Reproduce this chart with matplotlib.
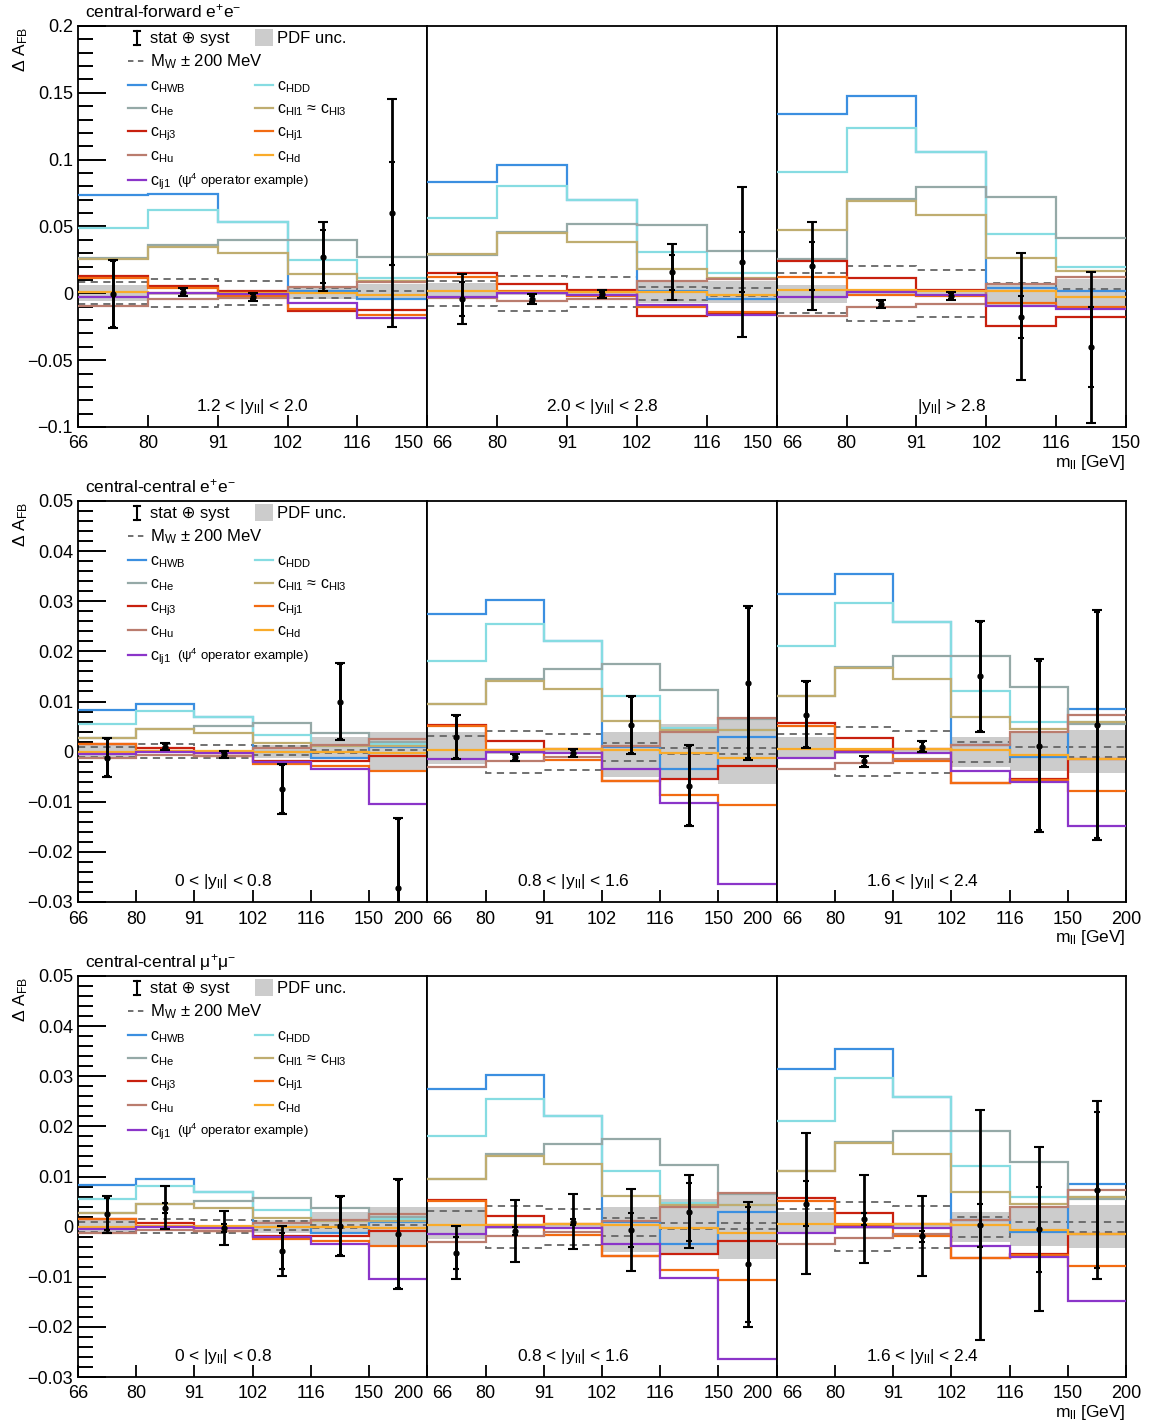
import numpy as np
import matplotlib
matplotlib.use("Agg")
import matplotlib.pyplot as plt
from matplotlib.ticker import FixedLocator, FuncFormatter
from matplotlib.patches import Rectangle
import matplotlib.transforms as mtransforms

plt.rcParams['font.family'] = ['Liberation Sans', 'DejaVu Sans']
plt.rcParams['mathtext.fontset'] = 'custom'
plt.rcParams['mathtext.rm'] = 'Liberation Sans'
plt.rcParams['mathtext.it'] = 'Liberation Sans:italic'
plt.rcParams['mathtext.bf'] = 'Liberation Sans:bold'

# ---------------- data ----------------
mass_labels_cf = ['66', '80', '91', '102', '116', '150']
mass_labels_cc = ['66', '80', '91', '102', '116', '150', '200']
ybins_cf = ['1.2 < |y$_{\\rm ll}$| < 2.0', '2.0 < |y$_{\\rm ll}$| < 2.8', '|y$_{\\rm ll}$| > 2.8']
ybins_cc = ['0 < |y$_{\\rm ll}$| < 0.8', '0.8 < |y$_{\\rm ll}$| < 1.6', '1.6 < |y$_{\\rm ll}$| < 2.4']
row_titles = ['central-forward e$^{+}$e$^{-}$', 'central-central e$^{+}$e$^{-}$', 'central-central \u03bc$^{+}$\u03bc$^{-}$']

# central-forward ee predictions (one list per rapidity bin)
cf_cHWB = [[0.0735, 0.0743, 0.0536, 0.002, -0.0045], [0.083, 0.096, 0.0698, 0.002, -0.004], [0.134, 0.148, 0.106, 0.0037, 0.002]]
cf_cHDD = [[0.0486, 0.0623, 0.0536, 0.0249, 0.0112], [0.056, 0.0805, 0.0698, 0.0311, 0.015], [0.0905, 0.124, 0.106, 0.0444, 0.020]]
cf_cHe = [[0.0265, 0.036, 0.0399, 0.0399, 0.0269], [0.029, 0.0456, 0.0518, 0.0513, 0.0316], [0.0257, 0.0703, 0.0793, 0.0723, 0.0411]]
cf_cHl = [[0.0257, 0.0349, 0.0299, 0.0144, 0.009], [0.0294, 0.0449, 0.0386, 0.0182, 0.0112], [0.0474, 0.0688, 0.0586, 0.0262, 0.0167]]
cf_cHj3 = [[0.013, 0.0055, 0.0017, -0.013, -0.0125], [0.015, 0.007, 0.0025, -0.017, -0.015], [0.0242, 0.0112, 0.0025, -0.0245, -0.0175]]
cf_cHj1 = [[0.0117, 0.004, -0.002, -0.012, -0.016], [0.012, 0.002, -0.002, -0.010, -0.0137], [0.0124, -0.0013, -0.002, -0.007, -0.010]]
cf_cHu = [[-0.0093, -0.0045, -0.0037, 0.0045, 0.0087], [-0.0037, -0.006, -0.004, 0.0094, 0.011], [-0.017, -0.010, -0.008, 0.007, 0.012]]
cf_cHd = [[0.0007, 0.0005, 0.0003, 0.0005, -0.0013], [0.0017, 0.0012, 0.0012, 0.001, -0.0013], [0.0025, 0.0025, 0.002, 0.0015, -0.0025]]
cf_clj1 = [[-0.0025, 0.0, -0.0007, -0.0075, -0.0187], [-0.003, 0.0, -0.001, -0.0088, -0.0162], [-0.0025, 0.0008, -0.001, -0.0095, -0.012]]
cf_mw_up = [[0.0082, 0.0105, 0.009, 0.0037, 0.002], [0.0094, 0.013, 0.012, 0.005, 0.004], [0.015, 0.0204, 0.0174, 0.0075, 0.0032]]
cf_mw_dn = [[-0.008, -0.010, -0.0088, -0.0033, -0.001], [-0.0095, -0.0132, -0.010, -0.005, -0.002], [-0.015, -0.0207, -0.0175, -0.0075, -0.003]]
cf_pdf_up = [[0.006, 0.0012, 0.0012, 0.005, 0.007], [0.0075, 0.0015, 0.0015, 0.009, 0.009], [0.0062, 0.0015, 0.0015, 0.007, 0.0105]]
cf_pdf_dn = [[-0.006, -0.0012, -0.0012, -0.004, -0.004], [-0.004, -0.0015, -0.0015, -0.007, -0.007], [-0.007, -0.0015, -0.0015, -0.0095, -0.0095]]
cf_data = [[-0.0005, 0.0012, -0.0025, 0.0274, 0.060], [-0.0043, -0.0043, -0.0008, 0.0157, 0.0232], [0.0207, -0.008, -0.002, -0.0175, -0.0404]]
cf_tot = [[0.0255, 0.003, 0.003, 0.026, 0.0855], [0.0187, 0.0035, 0.003, 0.021, 0.056], [0.0328, 0.003, 0.003, 0.0474, 0.0565]]
cf_stat = [[0.0245, 0.002, 0.002, 0.020, 0.0385], [0.0125, 0.0025, 0.002, 0.013, 0.0225], [0.018, 0.002, 0.002, 0.0157, 0.030]]

# central-central predictions (same for ee and mumu)
cc_cHWB = [[0.0083, 0.0096, 0.007, 0.0, -0.0013, 0.0009], [0.0275, 0.0302, 0.0221, 0.001, -0.0035, 0.0029], [0.0314, 0.0354, 0.0258, 0.0013, -0.001, 0.0086]]
cc_cHDD = [[0.0055, 0.0082, 0.007, 0.0033, 0.0012, 0.0015], [0.0181, 0.0255, 0.0221, 0.011, 0.0048, 0.0043], [0.0211, 0.0297, 0.0258, 0.012, 0.006, 0.006]]
cc_cHe = [[0.0028, 0.0045, 0.0052, 0.0058, 0.0038, 0.002], [0.0096, 0.0145, 0.0165, 0.0174, 0.0123, 0.0065], [0.0111, 0.0168, 0.0191, 0.0191, 0.0128, 0.0056]]
cc_cHl = [[0.0028, 0.0045, 0.0038, 0.0018, 0.0011, 0.0012], [0.0096, 0.0141, 0.0124, 0.0062, 0.0044, 0.0043], [0.0111, 0.0166, 0.0144, 0.007, 0.0046, 0.006]]
cc_cHj3 = [[0.0015, 0.0007, -0.0003, -0.0018, -0.0018, -0.0008], [0.0053, 0.0022, 0.0005, -0.0058, -0.0055, -0.0028], [0.0058, 0.0027, 0.0005, -0.0062, -0.0055, -0.0015]]
cc_cHj1 = [[0.0015, 0.0002, -0.0008, -0.0025, -0.0029, -0.0038], [0.0051, 0.0003, -0.0017, -0.0059, -0.0087, -0.0107], [0.0052, 0.0003, -0.0018, -0.0063, -0.0057, -0.0078]]
cc_cHu = [[-0.0013, -0.0007, -0.0008, 0.0007, 0.0013, 0.0025], [-0.003, -0.0019, -0.001, 0.0012, 0.004, 0.0068], [-0.0035, -0.0022, -0.0015, 0.0013, 0.004, 0.0073]]
cc_cHd = [[0.0, 0.0002, 0.0001, 0.0, -0.0001, -0.0002], [0.0003, 0.0003, 0.0005, 0.0003, -0.0002, -0.0012], [0.0005, 0.0005, 0.0005, 0.0003, -0.0007, -0.0015]]
cc_clj1 = [[-0.0005, 0.0, -0.0003, -0.002, -0.0035, -0.0105], [-0.0015, 0.0, -0.0002, -0.0035, -0.0103, -0.0264], [-0.0013, 0.0, -0.0003, -0.0038, -0.006, -0.0148]]
cc_mw_up = [[0.001, 0.0015, 0.0013, 0.0011, 0.0003, 0.0003], [0.0031, 0.0042, 0.0036, 0.0018, 0.0008, 0.0007], [0.0035, 0.0049, 0.0042, 0.0019, 0.001, 0.001]]
cc_mw_dn = [[-0.001, -0.0013, -0.0012, -0.0006, -0.0003, -0.0003], [-0.003, -0.0042, -0.0037, -0.0018, -0.0004, -0.0005], [-0.0035, -0.0049, -0.0042, -0.002, -0.001, -0.001]]
cc_pdf_up = [[0.0013, 0.0003, 0.0003, 0.0013, 0.003, 0.004], [0.004, 0.0005, 0.0005, 0.004, 0.0055, 0.007], [0.003, 0.0004, 0.0004, 0.003, 0.004, 0.0043]]
cc_pdf_dn = [[-0.0013, -0.0003, -0.0003, -0.0013, -0.001, -0.004], [-0.0025, -0.0005, -0.0005, -0.005, -0.0053, -0.0065], [-0.0015, -0.0004, -0.0004, -0.003, -0.0038, -0.0043]]

ccee_data = [[-0.0012, 0.001, -0.0005, -0.0075, 0.010, -0.0273], [0.0029, -0.0011, -0.0003, 0.0053, -0.0068, 0.0137], [0.0074, -0.0019, 0.001, 0.015, 0.0012, 0.0053]]
ccee_tot = [[0.0039, 0.0007, 0.0007, 0.005, 0.0077, 0.014], [0.0044, 0.0007, 0.0008, 0.0058, 0.0081, 0.0154], [0.0067, 0.0011, 0.0011, 0.011, 0.0173, 0.023]]
ccee_stat = [[0.0037, 0.0005, 0.0005, 0.0048, 0.0075, 0.0138], [0.0042, 0.0005, 0.0006, 0.0056, 0.0079, 0.015], [0.0065, 0.0009, 0.0009, 0.0108, 0.0168, 0.0226]]

ccmm_data = [[0.0025, 0.0038, -0.0003, -0.0049, 0.0002, -0.0015], [-0.0052, -0.0008, 0.001, -0.0007, 0.003, -0.0075], [0.0046, 0.0015, -0.0019, 0.0003, -0.0005, 0.0073]]
ccmm_tot = [[0.0037, 0.0043, 0.0034, 0.005, 0.006, 0.011], [0.0053, 0.0062, 0.0055, 0.0082, 0.0073, 0.0125], [0.014, 0.0088, 0.008, 0.023, 0.0163, 0.0177]]
ccmm_stat = [[0.0032, 0.001, 0.0008, 0.0036, 0.0058, 0.0108], [0.0032, 0.0008, 0.0006, 0.0034, 0.0058, 0.0115], [0.0045, 0.0012, 0.0011, 0.0043, 0.0085, 0.0155]]

op_names = ['cHWB', 'cHDD', 'cHe', 'cHl', 'cHj3', 'cHj1', 'cHu', 'cHd', 'clj1']
op_colors = {'cHWB': '#3b8fe0', 'cHDD': '#86dce2', 'cHe': '#95a9a7', 'cHl': '#bfad70',
             'cHj3': '#c8200e', 'cHj1': '#f26b12', 'cHu': '#ba7c6e', 'cHd': '#f9ab2a', 'clj1': '#8b35c9'}

cf_preds = dict(cHWB=cf_cHWB, cHDD=cf_cHDD, cHe=cf_cHe, cHl=cf_cHl, cHj3=cf_cHj3,
                cHj1=cf_cHj1, cHu=cf_cHu, cHd=cf_cHd, clj1=cf_clj1)
cc_preds = dict(cHWB=cc_cHWB, cHDD=cc_cHDD, cHe=cc_cHe, cHl=cc_cHl, cHj3=cc_cHj3,
                cHj1=cc_cHj1, cHu=cc_cHu, cHd=cc_cHd, clj1=cc_clj1)

rows = [
    dict(labels=mass_labels_cf, ybins=ybins_cf, preds=cf_preds, mwu=cf_mw_up, mwd=cf_mw_dn,
         pu=cf_pdf_up, pd=cf_pdf_dn, data=cf_data, tot=cf_tot, stat=cf_stat,
         ylim=(-0.1, 0.2), major=np.round(np.arange(-0.1, 0.2001, 0.05), 4),
         minor=np.round(np.arange(-0.1, 0.2001, 0.01), 4), yfrac=0.5),
    dict(labels=mass_labels_cc, ybins=ybins_cc, preds=cc_preds, mwu=cc_mw_up, mwd=cc_mw_dn,
         pu=cc_pdf_up, pd=cc_pdf_dn, data=ccee_data, tot=ccee_tot, stat=ccee_stat,
         ylim=(-0.03, 0.05), major=np.round(np.arange(-0.03, 0.0501, 0.01), 4),
         minor=np.round(np.arange(-0.03, 0.0501, 0.002), 4), yfrac=0.417),
    dict(labels=mass_labels_cc, ybins=ybins_cc, preds=cc_preds, mwu=cc_mw_up, mwd=cc_mw_dn,
         pu=cc_pdf_up, pd=cc_pdf_dn, data=ccmm_data, tot=ccmm_tot, stat=ccmm_stat,
         ylim=(-0.03, 0.05), major=np.round(np.arange(-0.03, 0.0501, 0.01), 4),
         minor=np.round(np.arange(-0.03, 0.0501, 0.002), 4), yfrac=0.417),
]

# ---------------- layout ----------------
W, H = 1152, 1425
fig = plt.figure(figsize=(W / 100, H / 100), dpi=100)
row_tops = [26, 501, 976]
AX_H = 401
lefts = [78, 427.33, 776.67]
AX_W = 349.33


def fmt(v, pos=None):
    if abs(v) < 1e-9:
        return '0'
    s = '%g' % v
    return s.replace('-', '\u2212')


def fx(x):
    return (x - 78) / AX_W


def fy(y):
    return 1 - (y - 26) / AX_H


for r, row in enumerate(rows):
    top = row_tops[r]
    nb = len(row['labels']) - 1
    edges = np.arange(nb + 1)
    centers = edges[:-1] + 0.5
    axes = []
    for p in range(3):
        ax = fig.add_axes([lefts[p] / W, 1 - (top + AX_H) / H, AX_W / W, AX_H / H])
        axes.append(ax)
        ax.set_xlim(0, nb)
        ax.set_ylim(*row['ylim'])
        for s in ax.spines.values():
            s.set_linewidth(1.3)
        # PDF band
        ax.stairs(row['pu'][p], edges, baseline=row['pd'][p], fill=True,
                  color='#cccccc', lw=0, zorder=1)
        # MW dashed
        for arr in (row['mwu'][p], row['mwd'][p]):
            ax.stairs(arr, edges, baseline=None, color='#666666', lw=1.3,
                      ls=(0, (4, 3)), zorder=2)
        # operators
        for name in op_names:
            ax.stairs(row['preds'][name][p], edges, baseline=None,
                      color=op_colors[name], lw=1.6, zorder=3)
        # data
        ax.errorbar(centers, row['data'][p], yerr=row['tot'][p], fmt='o', color='k',
                    ms=3.5, lw=2, capsize=3.5, capthick=1.5, zorder=10)
        ax.errorbar(centers, row['data'][p], yerr=row['stat'][p], fmt='none', ecolor='k',
                    lw=2, capsize=2.5, capthick=1.5, zorder=10)
        # ticks
        ax.set_xticks(edges)
        ax.tick_params(axis='x', direction='in', length=8.6, width=1.3,
                       labelbottom=False, top=False)
        if p == 0:
            ax.yaxis.set_major_locator(FixedLocator(row['major']))
            ax.yaxis.set_minor_locator(FixedLocator(row['minor']))
            ax.yaxis.set_major_formatter(FuncFormatter(fmt))
            ax.tick_params(axis='y', which='major', direction='in', length=20.5,
                           width=1.4, labelsize=13, pad=3.6, right=False)
            ax.tick_params(axis='y', which='minor', direction='in', length=10.5,
                           width=1.4, right=False)
        else:
            ax.tick_params(axis='y', which='both', left=False, right=False,
                           labelleft=False)
        # x tick labels
        trans = mtransforms.blended_transform_factory(ax.transData, ax.transAxes)
        for i, lab in enumerate(row['labels']):
            ha, dx = 'center', 0
            if i == 0 and p > 0:
                ha, dx = 'left', 5
            elif i == nb and p < 2:
                ha, dx = 'right', -4
            t = mtransforms.offset_copy(trans, fig=fig, x=dx, y=0, units='dots')
            ax.text(i, -17 / AX_H, lab, transform=t, ha=ha, va='center', fontsize=13)
        # rapidity label
        ax.text(row['yfrac'], 1 - (385 / AX_H), row['ybins'][p], transform=ax.transAxes,
                ha='center', va='baseline', fontsize=12.5)

    ax0 = axes[0]
    # title and axis titles
    ax0.text(fx(85), 1 + 9 / AX_H, row_titles[r], transform=ax0.transAxes,
             ha='left', va='baseline', fontsize=12.5)
    fig.text(21 / W, 1 - (top + 1) / H, '\u0394 A$_{\\rm FB}$', rotation=90,
             ha='center', va='top', fontsize=12.5)
    axes[2].text(1.0, -40 / AX_H, 'm$_{\\rm ll}$ [GeV]', transform=axes[2].transAxes,
                 ha='right', va='baseline', fontsize=12.5)

    # legend
    tA = ax0.transAxes
    ax0.plot([fx(137), fx(137)], [fy(31), fy(45)], color='k', lw=1.5, transform=tA, clip_on=False)
    ax0.plot([fx(134), fx(140)], [fy(31), fy(31)], color='k', lw=1.5, transform=tA, clip_on=False)
    ax0.plot([fx(134), fx(140)], [fy(45), fy(45)], color='k', lw=1.5, transform=tA, clip_on=False)
    ax0.text(fx(150), fy(43), 'stat \u2295 syst', transform=tA, fontsize=12, va='baseline')
    ax0.add_patch(Rectangle((fx(255), fy(46)), 18 / AX_W, 17 / AX_H, transform=tA,
                            facecolor='#cccccc', edgecolor='none'))
    ax0.text(fx(277), fy(43), 'PDF unc.', transform=tA, fontsize=12, va='baseline')
    ax0.plot([fx(128), fx(146)], [fy(61), fy(61)], color='#666666', lw=1.3,
             ls=(0, (3, 2.5)), transform=tA)
    ax0.text(fx(150), fy(66), 'M$_{\\rm W}$ \u00b1 200 MeV', transform=tA, fontsize=12,
             va='baseline')
    leg_rows_y = [85, 108, 131, 155, 180]
    col1 = [('cHWB', 'c$_{\\rm HWB}$'), ('cHe', 'c$_{\\rm He}$'), ('cHj3', 'c$_{\\rm Hj3}$'),
            ('cHu', 'c$_{\\rm Hu}$'), ('clj1', 'c$_{\\rm lj1}$')]
    col2 = [('cHDD', 'c$_{\\rm HDD}$'), ('cHl', 'c$_{\\rm Hl1}$ \u2248 c$_{\\rm Hl3}$'),
            ('cHj1', 'c$_{\\rm Hj1}$'), ('cHd', 'c$_{\\rm Hd}$')]
    for (name, lab), yy in zip(col1, leg_rows_y):
        ax0.plot([fx(128), fx(146)], [fy(yy), fy(yy)], color=op_colors[name], lw=1.6, transform=tA)
        ax0.text(fx(150), fy(yy + 5), lab, transform=tA, fontsize=11.5, va='baseline')
    for (name, lab), yy in zip(col2, leg_rows_y):
        ax0.plot([fx(255), fx(273)], [fy(yy), fy(yy)], color=op_colors[name], lw=1.6, transform=tA)
        ax0.text(fx(277), fy(yy + 5), lab, transform=tA, fontsize=11.5, va='baseline')
    ax0.text(fx(177), fy(185), '(\u03c8$^{4}$ operator example)', transform=tA,
             fontsize=9.5, va='baseline')

fig.savefig('out.png', dpi=100)
